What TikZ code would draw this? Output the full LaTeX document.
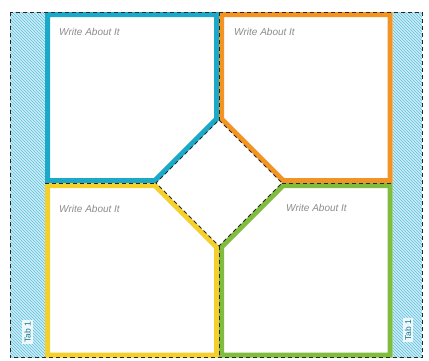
\documentclass[tikz,border=0pt]{standalone}
\usepackage{fontspec}
\setmainfont{Liberation Sans}
\usepackage{xcolor}
\usepackage{tikz}
\usetikzlibrary{calc,patterns}

\definecolor{flapcyan}{HTML}{1BA9C9}
\definecolor{flaporange}{HTML}{F39322}
\definecolor{flapyellow}{HTML}{F6D02A}
\definecolor{flapgreen}{HTML}{80BC3D}
\definecolor{tabblue}{HTML}{CDEBF8}

\begin{document}
\begin{tikzpicture}[x=1pt,y=-1pt,
  flap/.style={line width=5pt, line join=miter, fill=white, draw=#1},
  fold/.style={line width=1pt, black!85, dash pattern=on 4pt off 3pt},
  tabstrip/.style={fill=tabblue, postaction={pattern=north west lines, pattern color=flapcyan!70}},
  prompt/.style={anchor=west, inner sep=0pt, text=black!45, font=\fontsize{10}{12}\selectfont\itshape},
  tablabel/.style={rotate=90, fill=white, fill opacity=0.8, text opacity=1, inner sep=2pt, text=flapcyan!70!black, font=\fontsize{8.5}{10}\selectfont}]
\useasboundingbox (0,0) rectangle (429,360);
% side tabs with hatching
\fill[tabstrip] (10,12) rectangle (45,357.5);
\fill[tabstrip] (392.5,12) rectangle (422,357.5);
% four flaps round the centre diamond
\draw[flap=flapcyan] (47.5,14.5) -- (216.5,14.5) -- (216.5,118.96)
  -- (154.96,180.5) -- (47.5,180.5) -- cycle;
\draw[flap=flaporange] (221.5,14.5) -- (390,14.5) -- (390,180.5)
  -- (283.04,180.5) -- (221.5,118.96) -- cycle;
\draw[flap=flapyellow] (47.5,185.5) -- (154.96,185.5) -- (216.5,247.04)
  -- (216.5,355) -- (47.5,355) -- cycle;
\draw[flap=flapgreen] (221.5,247.04) -- (283.04,185.5) -- (390,185.5)
  -- (390,355) -- (221.5,355) -- cycle;
% fold lines
\coordinate (dtop) at (219,120);
\coordinate (dright) at (282,183);
\coordinate (dbottom) at (219,246);
\coordinate (dleft) at (156,183);
\draw[fold] (10,12) rectangle (422,357.5);
\draw[fold] (dtop) -- (dright) -- (dbottom) -- (dleft) -- cycle;
\draw[fold] (219,12) -- (dtop);
\draw[fold] (dbottom) -- (219,357.5);
\draw[fold] (45,183) -- (dleft);
\draw[fold] (dright) -- (392.5,183);
% prompts
\node[prompt] (writetl) at (59,32) {Write About It};
\node[prompt] (writetr) at (234,32) {Write About It};
\node[prompt] (writebl) at (59,209) {Write About It};
\node[prompt] (writebr) at (286,208) {Write About It};
% tab labels
\node[tablabel] (tableft) at (27.5,332) {Tab 1};
\node[tablabel] (tabright) at (408,330) {Tab 1};
\end{tikzpicture}
\end{document}
